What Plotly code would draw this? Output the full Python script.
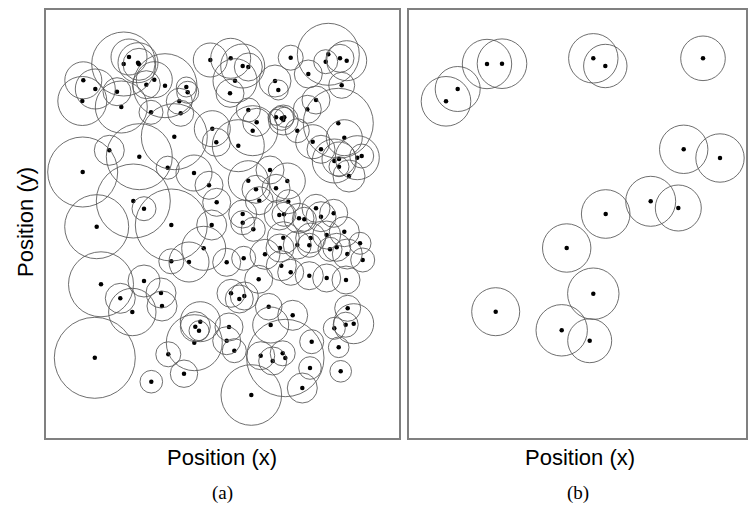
import plotly.graph_objects as go

# ---- Panel (a): point positions (x, y) and coverage radii ----
a_x = [129, 123.7, 138, 139, 83.3, 95.3, 82.3, 117, 121.3, 146.3, 154.3, 165, 186.3, 187.7, 179.3, 180.7, 151, 174.3, 210.3, 212.3, 216.3, 109.3,
       230.7, 242.7, 248.3, 235, 230, 290.7, 328.3, 325.7, 340, 346.7, 308.3, 341.7, 275, 278.3, 248.3, 256.7, 252.7, 276, 281.7, 283.3, 284.3, 297.3, 316, 307.3, 338.3, 344.3, 312.7, 321, 238.3,
       82.7, 96.7, 101, 133.3, 144, 171.3, 139.3, 167.7, 194, 209, 216.7, 211.7, 203.7, 171.3, 189, 144, 161,
       120.3, 132.3, 162, 94.8, 151.3, 168.3, 184, 194.3, 195.3, 200.3, 199,
       231, 239.3, 244.3, 268.7, 292.7, 270.7, 285.3, 229, 226.7, 234.3, 260.7, 282.7, 272.7, 311.7, 310, 302.3, 251.3, 347.7, 334.3, 345.7, 353.7, 338.7, 340.7,
       270, 248.3, 256, 259.3, 276, 287.3, 288.3, 279.3, 284, 299, 304.3, 316, 321, 333.7, 242.7, 242.7, 253.3, 283.3, 280, 297.3, 310.7, 309.3, 326.7, 344.3, 336.7, 330, 360, 347.3, 362.7, 265, 243.7, 226.7, 281.3, 290.7, 309.3, 326.7, 346, 258.7,
       334.3, 339, 339, 357.3, 361.7, 349]
a_y = [57, 64, 62.7, 64.3, 80.3, 89, 101, 91.7, 107, 84.7, 79.7, 85.7, 87, 92.3, 101.3, 113.3, 112.3, 136.7, 60, 128.7, 142.3, 150.3,
       58.3, 66, 67, 80.7, 93.3, 57.7, 54.3, 61.7, 58.3, 60.7, 74, 85.3, 81, 90, 110, 122.3, 130.7, 117.3, 118.3, 120, 117.3, 130.7, 100, 109.3, 123.3, 137.7, 141.7, 149.3, 145.7,
       172, 226.7, 284.3, 201, 208.7, 225, 156.7, 167.7, 173, 185.3, 202.3, 225, 248.3, 261.3, 262, 281, 293,
       298.3, 312, 306, 357.8, 381.7, 354.3, 373.7, 342.7, 326.7, 321.7, 330.7,
       293.3, 299, 296, 306.7, 315.3, 325, 358, 327, 340.7, 350.7, 355.7, 353.3, 361, 341.7, 368, 388, 395, 308.3, 328.3, 324.7, 323.7, 347.3, 371.3,
       170, 180.7, 189.3, 200.7, 188.3, 181, 201.7, 215, 214.3, 218.3, 219.3, 208.3, 216.7, 213.3, 214, 222.7, 229.3, 237.7, 248, 245, 238, 245.3, 235, 231.7, 247.3, 249.3, 243.3, 254, 260, 254.3, 258.3, 262.3, 265.7, 272.3, 275.7, 278, 280, 279.3,
       161, 159, 166.7, 157.7, 156, 176]
a_r = [18, 32, 20, 16, 18.5, 20, 24.5, 14, 26, 14, 18, 32, 10, 11, 13, 13, 12, 33, 17, 18, 14, 15,
       20, 22, 14, 22, 14, 12.5, 31, 12, 14, 20, 14, 13, 16, 10, 12, 14, 25, 8, 12, 15, 10, 12, 14, 14, 35, 18, 17, 14, 26,
       35, 32, 32.5, 37, 12, 36, 33, 11.5, 18, 14, 14, 15, 22, 12.5, 20, 16, 15,
       15, 23.7, 15, 40.5, 11.3, 12.5, 13.7, 28, 15, 20, 10,
       14, 14, 14, 13.3, 15, 18, 38.7, 14, 14, 12, 14, 12.5, 14, 12, 11.3, 15, 30.3, 13, 11, 12.5, 20, 10.3, 10.8,
       14, 20, 14, 14, 14, 18, 12, 15, 12, 15, 12, 14, 15, 14, 14, 12, 12, 16, 14, 14, 15, 12, 14, 15, 14, 12, 11, 15, 12, 15, 12, 14, 15, 13, 14, 14, 14, 14,
       22, 17, 10, 22, 12, 16]

# ---- Panel (b): point positions and radii ----
b_x = [487, 502, 457.7, 446, 593.3, 605.3, 703, 683.7, 720, 650.7, 678.3, 605.7, 566.7, 593.3, 495.7, 561.7, 589.7]
b_y = [64, 63.7, 89, 101.3, 58.3, 66, 58.3, 149.3, 158, 201.3, 208, 214, 248, 293.7, 311.7, 330.3, 340.7]
b_r = [24.7, 24.8, 22.5, 24.8, 24.7, 21.7, 22.3, 24.2, 24.2, 25, 23, 24.3, 24.2, 25.7, 24, 25.7, 22]

W, H = 748, 510
A_X0, A_X1 = 46, 399
B_X0, B_X1 = 409, 746
TOP, BOT = 10, 438

fig = go.Figure()
fig.add_trace(go.Scatter(x=a_x, y=a_y, mode="markers", xaxis="x", yaxis="y",
                         marker=dict(color="black", size=4.5), hoverinfo="skip"))
fig.add_trace(go.Scatter(x=b_x, y=b_y, mode="markers", xaxis="x2", yaxis="y2",
                         marker=dict(color="black", size=4.5), hoverinfo="skip"))

shapes = []
circ_line = dict(color="#555555", width=0.85)
for x, y, r in zip(a_x, a_y, a_r):
    shapes.append(dict(type="circle", xref="x", yref="y", x0=x - r, x1=x + r,
                       y0=y - r, y1=y + r, line=circ_line, layer="above"))
for x, y, r in zip(b_x, b_y, b_r):
    shapes.append(dict(type="circle", xref="x2", yref="y2", x0=x - r, x1=x + r,
                       y0=y - r, y1=y + r, line=circ_line, layer="above"))

ax_common = dict(showgrid=False, zeroline=False, showticklabels=False, ticks="",
                 showline=True, mirror=True, linecolor="#808080", linewidth=1.5)
ydom = [(H - BOT) / H, (H - TOP) / H]

fig.update_layout(
    width=W, height=H, margin=dict(l=0, r=0, t=0, b=0),
    paper_bgcolor="white", plot_bgcolor="white", showlegend=False,
    shapes=shapes,
    xaxis=dict(domain=[A_X0 / W, A_X1 / W], range=[A_X0, A_X1], **ax_common),
    yaxis=dict(domain=ydom, range=[BOT, TOP], **ax_common),
    xaxis2=dict(domain=[B_X0 / W, B_X1 / W], range=[B_X0, B_X1], anchor="y2", **ax_common),
    yaxis2=dict(domain=ydom, range=[BOT, TOP], anchor="x2", **ax_common),
)

sans = dict(family="Liberation Sans, Arial, sans-serif", size=22, color="black")
serif = dict(family="Liberation Serif, Times New Roman, serif", size=19, color="black")
ann = [
    dict(text="Position (x)", x=222 / W, y=1 - 457 / H, font=sans),
    dict(text="Position (x)", x=580 / W, y=1 - 457 / H, font=sans),
    dict(text="Position (y)", x=25 / W, y=1 - 222 / H, font=sans, textangle=-90),
    dict(text="(a)", x=222.5 / W, y=1 - 493 / H, font=serif),
    dict(text="(b)", x=578 / W, y=1 - 493 / H, font=serif),
]
for a in ann:
    fig.add_annotation(xref="paper", yref="paper", showarrow=False,
                       xanchor="center", yanchor="middle", **a)

fig.write_html("out.html", config={"displayModeBar": False},
               post_script="document.body.style.margin='0';document.body.style.overflow='hidden';")
